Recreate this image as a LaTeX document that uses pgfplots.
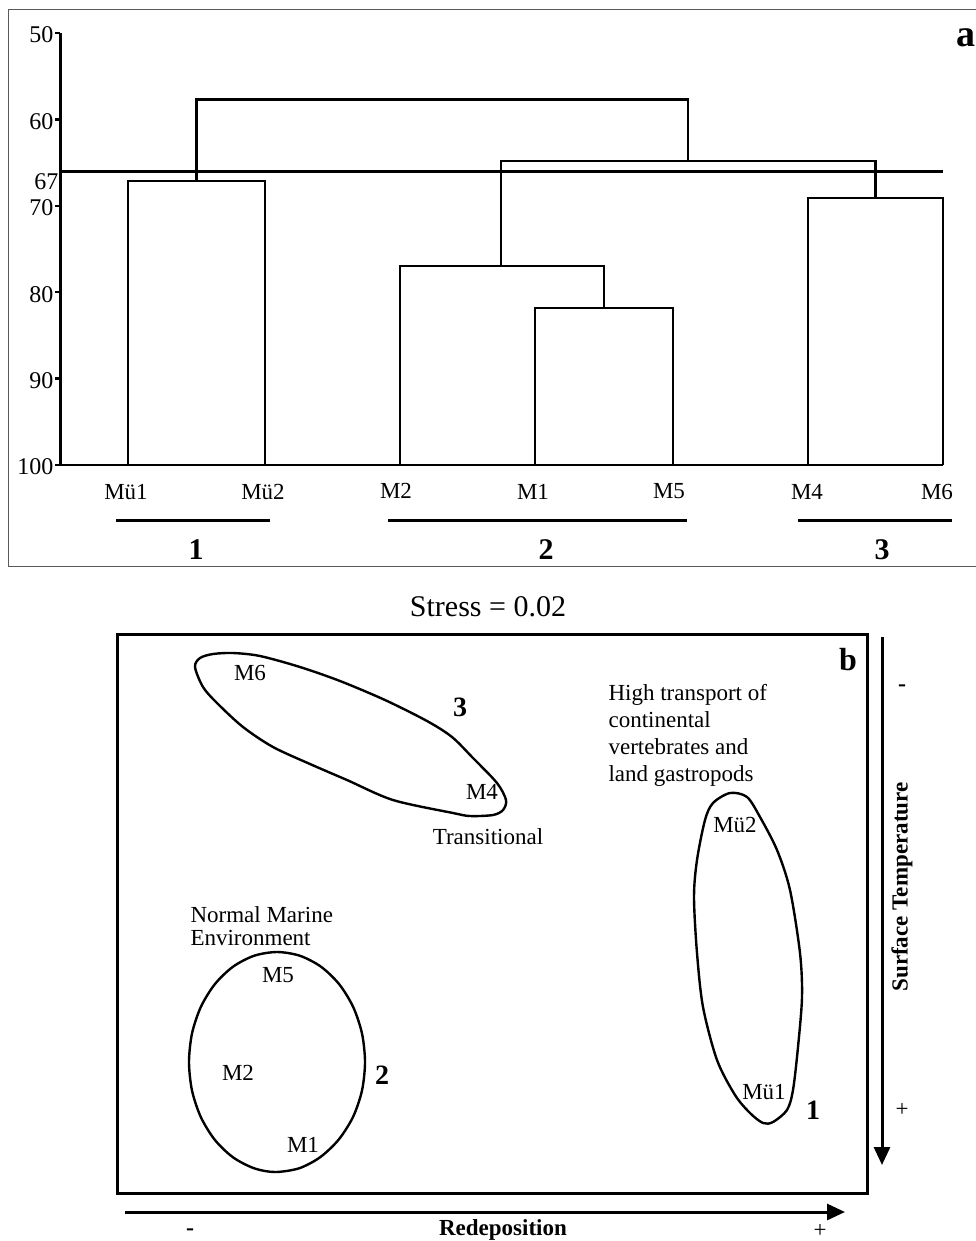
\documentclass[border=0pt]{standalone}
\usepackage{pgfplots}
\pgfplotsset{compat=1.18}
\usepackage{fontspec}
\setmainfont{Liberation Serif}
\usetikzlibrary{arrows.meta}

\newcommand{\fs}[1]{\fontsize{#1}{#1}\selectfont}

\begin{document}
\begin{tikzpicture}[x=1pt,y=-1pt]
\useasboundingbox (0,0) rectangle (976,1241);

% ---- panel a: dendrogram ----
\draw[line width=1pt, black!65] (980,10) -- (8,10) -- (8,566) -- (980,566);

\begin{axis}[
  at={(60pt,-33pt)}, anchor=north west,
  scale only axis, width=900pt, height=432pt,
  xmin=60, xmax=960, ymin=50, ymax=100, y dir=reverse,
  axis x line=none, axis y line*=left,
  y axis line style={line width=3pt, -},
  ytick={50,60,70,80,90,100},
  extra y ticks={67}, extra y tick style={major tick length=0pt},
  tick align=outside, major tick length=5pt,
  tick style={line width=2.5pt, black},
  tick label style={font=\fs{24}, inner xsep=1.5pt, yshift=-2pt},
  /pgf/number format/assume math mode=true,
  clip=false,
  dend/.style={black, line width=2.4pt, no markers},
]
\addplot[dend, line width=2.8pt] coordinates {(60,66) (943,66)};
\addplot[dend, line width=2.8pt] coordinates {(60,100) (943,100)};
% clusters
\addplot[dend] coordinates {(128,100) (128,67.1) (265,67.1) (265,100)};
\addplot[dend] coordinates {(535,100) (535,81.8) (673,81.8) (673,100)};
\addplot[dend] coordinates {(400,100) (400,77.0) (604,77.0) (604,81.8)};
\addplot[dend] coordinates {(808,100) (808,69.1) (943,69.1) (943,100)};
\addplot[dend] coordinates {(501,77.0) (501,64.8) (875.5,64.8) (875.5,69.1)};
\addplot[dend] coordinates {(196.5,67.1) (196.5,57.7) (688,57.7) (688,64.8)};
\end{axis}

\begin{scope}[every node/.style={font=\fs{23}}]
\node at (126,492) {Mü1};
\node at (263,492) {Mü2};
\node at (396,491) {M2};
\node at (533,492) {M1};
\node at (669,491) {M5};
\node at (807,492) {M4};
\node at (937,492) {M6};
\end{scope}
\draw[line width=3pt] (116,520) -- (270,520);
\draw[line width=3pt] (388,520) -- (687,520);
\draw[line width=3pt] (798,520) -- (952,520);
\node[font=\bfseries\fs{30}] at (196,550) {1};
\node[font=\bfseries\fs{30}] at (546,550) {2};
\node[font=\bfseries\fs{30}] at (882,550) {3};
\node[font=\bfseries\fs{38}] at (966,38) {a};

% ---- panel b: MDS ordination ----
\node[font=\fs{30}] at (488,607) {Stress = 0.02};

\begin{axis}[
  at={(117pt,-634pt)}, anchor=north west,
  scale only axis, width=750pt, height=559pt,
  xmin=117, xmax=867, ymin=634, ymax=1193, y dir=reverse,
  xtick=\empty, ytick=\empty,
  axis line style={line width=3pt},
  clip=false,
  grp/.style={black, line width=2.4pt, no markers, smooth cycle},
]
% group 3 (M4, M6)
\addplot[grp] coordinates {
(195,667) (200,658) (213,654) (233,653) (260,656) (300,667) (340,681)
(385,700) (427,721) (452,737) (473,758) (497,783) (506,800) (503,810)
(493,815) (470,816) (453,813) (393,800) (347,780) (310,764) (273,747)
(243,727) (217,703) (203,687)};
% group 2 (M1, M2, M5)
\addplot[grp] coordinates {
(365,1062) (362,1033.5) (353.2,1007) (339.2,984.2) (321,966.7) (299.8,955.7)
(277,952) (254.2,955.7) (233,966.7) (214.8,984.2) (200.8,1007) (192,1033.5)
(189,1062) (192,1090.5) (200.8,1117) (214.8,1139.8) (233,1157.3) (254.2,1168.3)
(275,1172) (299,1168.3) (320,1157.3) (338.5,1139.8) (353,1117) (362,1090.5)};
% group 1 (Mü1, Mü2)
\addplot[grp] coordinates {
(730,793) (747,797) (760,817) (777,850) (790,890) (800,953) (802,997)
(798,1047) (793,1090) (787,1110) (773,1122) (763,1123) (750,1113)
(735,1095) (717,1060) (703,1007) (697,953) (694,897) (697,860)
(705,820) (713,803)};
\end{axis}

\begin{scope}[every node/.style={font=\fs{23}}]
\node at (250,673) {M6};
\node at (482,792) {M4};
\node at (488,837) {Transitional};
\node at (735,825) {Mü2};
\node at (764,1092) {Mü1};
\node at (278,975) {M5};
\node at (238,1073) {M2};
\node at (303,1145) {M1};
\node[anchor=base west] at (605,700) {High transport of};
\node[anchor=base west] at (605,727) {continental};
\node[anchor=base west] at (605,754) {vertebrates and};
\node[anchor=base west] at (605,781) {land gastropods};
\node[anchor=base west] at (187,922) {Normal Marine};
\node[anchor=base west] at (187,945) {Environment};
\end{scope}
\node[font=\bfseries\fs{28}] at (460,707) {3};
\node[font=\bfseries\fs{28}] at (382,1075) {2};
\node[font=\bfseries\fs{28}] at (813,1110) {1};
\node[font=\bfseries\fs{32}] at (848,660) {b};

% axis arrows
\draw[line width=3pt, -{Triangle[length=18pt,width=16pt]}] (882,637) -- (882,1165);
\draw[line width=3pt, -{Triangle[length=18pt,width=16pt]}] (125,1212) -- (845,1212);
\node[font=\bfseries\fs{24}] at (902,688) {-};
\node[font=\fs{23}] at (902,1110) {+};
\node[font=\bfseries\fs{23}, rotate=90] at (902,887) {Surface Temperature};
\node[font=\bfseries\fs{24}] at (190,1232) {-};
\node[font=\bfseries\fs{23}] at (503,1230) {Redeposition};
\node[font=\fs{23}] at (820,1231) {+};
\end{tikzpicture}
\end{document}
